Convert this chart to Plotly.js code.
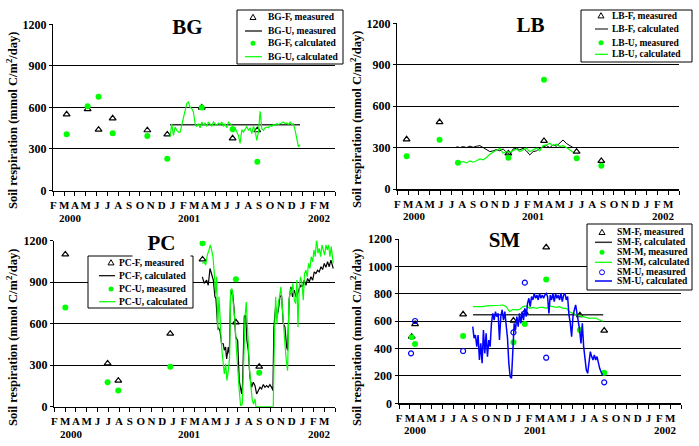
<!DOCTYPE html>
<html><head><meta charset="utf-8">
<script src="https://cdn.plot.ly/plotly-3.0.1.min.js"></script>
<style>html,body{margin:0;padding:0;background:#fff}#chart{width:699px;height:446px}</style>
</head><body><div id="chart"></div>
<script>
// ---------------- axis labels ----------------
const monthLetters = ['F','M','A','M','J','J','A','S','O','N','D','J','F','M','A','M','J','J','A','S','O','N','D','J','F','M'];
const yearLabels = ['2000','2001','2002'];
const yearMonthIdx = [0, 11, 23];           // month index where each year label starts
const yTitle = 'Soil respiration (mmol C/m<sup>2</sup>/day)';
// x values below are months elapsed since 1 Feb 2000

// ---------------- BG ----------------
const bgMeasX = [1.23, 3.17, 4.18, 5.48, 8.68, 10.52, 13.7, 16.55, 18.83];
const bgFMeasured = [550, 587, 439, 521, 435, 405, 599, 377, 435];
const bgFCalculated = [406, 608, 676, 413, 393, 229, 599, 442, 208];
const bgUMeasuredX = [10.77, 22.77];
const bgUMeasured = [475, 475];
const bgUCalcStart = 10.78, bgUCalcEnd = 22.78;
const bgUCalculated = [386,482,398,458,434,422,422,470,530,566,627,639,602,591,566,482,463,482,453,494,
  470,487,463,494,482,463,494,482,470,487,477,494,463,482,453,494,482,470,446,453,
  422,398,340,439,422,446,463,434,453,410,463,434,362,422,572,446,434,453,458,453,
  470,463,477,470,482,477,482,487,494,482,487,477,494,477,482,434,380,315,330];

// ---------------- LB ----------------
const lbFMeasX = [0.86, 3.9, 10.25, 13.54, 16.55, 18.83];
const lbFMeasured = [360, 485, 258, 348, 270, 203];
const lbUMeasX = [0.86, 3.9, 5.6, 10.25, 13.54, 16.55, 18.83];
const lbUMeasured = [237, 357, 190, 227, 792, 222, 169];
const lbCalcStart = 5.47, lbCalcEnd = 16.22;
const lbFCalculated = [307,300,307,300,310,302,310,314,300,283,271,276,286,276,290,266,250,290,
  295,283,295,276,247,271,276,295,305,314,300,319,310,331,355,330,314,300];
const lbUCalculated = [182,194,199,189,204,194,204,218,211,228,252,266,276,295,259,271,266,281,
  290,271,283,295,271,283,295,276,314,319,331,314,324,307,314,300,283,266];

// ---------------- PC ----------------
const pcMeasX = [1.02, 4.94, 5.93, 10.74, 13.73, 16.82, 18.98];
const pcFMeasured = [1101, 313, 188, 528, 1065, 610, 289];
const pcUMeasured = [718, 176, 118, 289, 1181, 921, 246];
const pcFCalcX = [13.71,13.89,14.11,14.26,14.42,14.57,14.73,14.88,14.97,15.13,15.34,15.50,15.65,15.75,15.87,15.96,16.12,16.21,16.33,16.49,
  16.64,16.80,16.98,17.13,17.35,17.44,17.60,17.72,17.84,17.97,18.12,18.28,18.43,18.59,18.74,18.89,19.05,19.20,19.36,19.51,
  19.67,19.82,19.97,20.13,20.25,20.34,20.50,20.62,20.75,20.90,21.05,21.21,21.36,21.52,21.61,21.76,21.92,22.07,22.23,22.38,
  22.54,22.69,22.84,23.00,23.15,23.31,23.46,23.62,23.77,23.93,24.08,24.23,24.39,24.54,24.70,24.85,25.01,25.16,25.31,25.47,
  25.62,25.75,25.84];
const pcFCalculated = [939,891,915,878,999,963,915,794,782,576,552,455,455,407,431,346,431,382,806,842,
  721,503,479,189,92,165,653,661,479,407,213,140,177,152,92,116,140,128,160,140,
  152,140,160,140,116,576,721,649,697,794,806,600,576,431,407,782,866,794,842,794,
  818,854,878,866,915,878,927,903,939,915,975,963,987,975,1012,992,1036,1007,1048,1012,
  1060,1024,999];
const pcUCalcX = [13.71,13.89,14.02,14.17,14.33,14.45,14.57,14.70,14.82,14.94,15.04,15.13,15.25,15.38,15.50,15.65,15.75,15.87,15.99,16.12,
  16.24,16.33,16.46,16.58,16.73,16.86,16.98,17.13,17.26,17.41,17.54,17.66,17.78,17.88,17.97,18.09,18.22,18.34,18.46,18.59,
  18.68,20.28,20.38,20.50,20.62,20.75,20.90,20.99,21.12,21.24,21.36,21.49,21.61,21.73,21.86,21.98,22.10,22.23,22.35,22.47,
  22.57,22.69,22.81,22.94,23.06,23.18,23.31,23.43,23.55,23.68,23.80,23.93,24.05,24.17,24.30,24.42,24.54,24.67,24.79,24.91,
  25.04,25.16,25.28,25.41,25.53,25.65,25.78,25.84];
const pcUCalculated = [1036,1048,1024,1096,1133,1169,1133,1084,963,818,939,552,794,576,431,310,237,310,189,261,
  358,842,854,745,624,431,261,116,7,19,310,649,757,552,455,261,140,44,19,56,
  0,0,479,794,600,745,818,866,721,552,455,334,261,745,854,818,891,770,745,915,
  576,866,939,891,770,963,987,939,1036,999,1084,1048,1133,1084,1217,1109,1145,1084,1169,1133,
  1096,1169,1133,1169,1084,1157,1072,1036];

// ---------------- SM ----------------
const smMeasX = [1.17, 1.48, 5.91, 10.55, 11.6, 13.57, 16.68, 18.92];
const smFMeasured = [487, 579, 650, 604, 664, 1139, 643, 531];
const smMMeasured = [482, 433, 492, 445, 579, 905, 535, 224];
const smUMeasX = [1.11, 1.48, 5.91, 10.55, 11.6, 13.57, 18.92];
const smUMeasured = [365, 601, 382, 518, 881, 333, 153];
const smFCalcX = [6.83, 18.83];
const smFCalculated = [647, 647];
const smMCalcStart = 6.82, smMCalcEnd = 18.8;
const smMCalculated = [706,706,701,706,711,711,716,716,716,718,706,669,686,682,686,706,711,694,701,694,
  701,701,694,711,706,701,706,694,694,669,657,645,638,633,628,621,623,621,608,599];
const smUCalcStart = 6.8, smUCalcEnd = 18.75;
const smUCalculated = [560,475,499,414,499,316,438,292,535,365,511,341,462,414,584,657,608,669,633,657,
  462,633,682,608,669,584,475,292,195,182,365,584,535,633,560,657,584,669,608,694,
  633,730,767,706,779,755,803,767,791,755,803,767,791,767,791,803,779,657,791,755,
  803,742,803,767,791,755,803,742,791,803,755,779,645,584,487,633,682,718,657,608,
  535,438,584,414,316,243,219,316,377,341,316,353,316,341,292,255,231,207];

// ================= rendering =================
const W = 699, H = 446;
const FONT = '"Liberation Serif", "Times New Roman", serif';
const GREEN = '#00ff00', BLUE = '#0000ff', BLACK = '#000000', DARK = '#333333';
const px = x => x / W, py = y => 1 - y / H;
function spanX(a, b, n) { const o = []; for (let i = 0; i < n; i++) o.push(a + (b - a) * i / (n - 1)); return o; }

const panels = [
  {title:'BG', box:[53.3,24.3,335,190.5], dtick:300, tpos:[187,27], ytpos:[12,121],
   leg:{box:[237,10,343,64], rows:[17.3,31,43.3,56.7], sym:253, line:[245,262], text:266}},
  {title:'LB', box:[397.3,23.3,679,189], dtick:300, tpos:[530,25], ytpos:[356,120],
   leg:{box:[581,10,692,62], rows:[15.7,29,42.7,54.3], sym:601, line:[595,608], text:610}},
  {title:'PC', box:[54.3,240.7,335,406.7], dtick:300, tpos:[161,243], ytpos:[12,338],
   leg:{box:[88,256,193,308], rows:[262.7,275.7,289,301.7], sym:111, line:[99,115], text:117}},
  {title:'SM', box:[399,239,681,403.3], dtick:200, tpos:[504,240], ytpos:[356,338],
   leg:{box:[587,224,692,290], rows:[232.3,242.3,252.3,262.3,272.3,281], sym:602, line:[595,612], text:615}}
];

function tri(x, y, name) { return {type:'scatter', mode:'markers', x, y, name, _k:'tri',
  marker:{symbol:'triangle-up-open', size:6, color:BLACK, line:{width:1.2, color:BLACK}}}; }
function dot(x, y, name) { return {type:'scatter', mode:'markers', x, y, name, _k:'dot',
  marker:{symbol:'circle', size:6, color:GREEN}}; }
function ring(x, y, name) { return {type:'scatter', mode:'markers', x, y, name, _k:'ring',
  marker:{symbol:'circle-open', size:5, color:BLUE, line:{width:1.2, color:BLUE}}}; }
function ln(x, y, name, color, width) { return {type:'scatter', mode:'lines', x, y, name, _k:'line',
  line:{color, width}}; }

const groups = [
  [tri(bgMeasX, bgFMeasured, 'BG-F, measured'),
   ln(bgUMeasuredX, bgUMeasured, 'BG-U, measured', DARK, 1.5),
   dot(bgMeasX, bgFCalculated, 'BG-F, calculated'),
   ln(spanX(bgUCalcStart, bgUCalcEnd, bgUCalculated.length), bgUCalculated, 'BG-U, calculated', GREEN, 1.2)],
  [tri(lbFMeasX, lbFMeasured, 'LB-F, measured'),
   ln(spanX(lbCalcStart, lbCalcEnd, lbFCalculated.length), lbFCalculated, 'LB-F, calculated', BLACK, 1),
   dot(lbUMeasX, lbUMeasured, 'LB-U, measured'),
   ln(spanX(lbCalcStart, lbCalcEnd, lbUCalculated.length), lbUCalculated, 'LB-U, calculated', GREEN, 1.2)],
  [tri(pcMeasX, pcFMeasured, 'PC-F, measured'),
   ln(pcFCalcX, pcFCalculated, 'PC-F, calculated', BLACK, 1.2),
   dot(pcMeasX, pcUMeasured, 'PC-U, measured'),
   ln(pcUCalcX, pcUCalculated, 'PC-U, calculated', GREEN, 1.2)],
  [tri(smMeasX, smFMeasured, 'SM-F, measured'),
   ln(smFCalcX, smFCalculated, 'SM-F, calculated', DARK, 1.5),
   dot(smMeasX, smMMeasured, 'SM-M, measured'),
   ln(spanX(smMCalcStart, smMCalcEnd, smMCalculated.length), smMCalculated, 'SM-M, calculated', GREEN, 1.2),
   ring(smUMeasX, smUMeasured, 'SM-U, measured'),
   ln(spanX(smUCalcStart, smUCalcEnd, smUCalculated.length), smUCalculated, 'SM-U, calculated', BLUE, 1.5)]
];

const data = [], shapes = [], annotations = [];
const layout = {width:W, height:H, margin:{l:0,r:0,t:0,b:0}, showlegend:false,
  paper_bgcolor:'#fff', plot_bgcolor:'#fff', font:{family:FONT, color:BLACK}};

panels.forEach((p, i) => {
  const n = i === 0 ? '' : String(i + 1);
  const xa = 'x' + n, ya = 'y' + n;
  const [l, t, r, b] = p.box;
  const monthPx = (r - l) / 26;
  layout['xaxis' + n] = {domain:[px(l), px(r)], anchor:ya, range:[0, 26], fixedrange:true,
    tickmode:'array', tickvals:monthLetters.map((_, k) => k).concat([26]), ticktext:monthLetters.concat(['']),
    tickangle:0, ticklabelshift:monthPx / 2, ticklabelstandoff:0,
    ticks:'outside', ticklen:4, tickwidth:1, tickcolor:BLACK,
    showline:true, linecolor:BLACK, linewidth:1.5, showgrid:false, zeroline:false,
    tickfont:{family:FONT, size:11, color:BLACK, weight:'bold'}};
  layout['yaxis' + n] = {domain:[py(b), py(t)], anchor:xa, range:[0, 1200], dtick:p.dtick, fixedrange:true,
    showline:true, linecolor:BLACK, linewidth:1.5, ticks:'outside', ticklen:3, tickcolor:BLACK,
    showgrid:true, gridcolor:BLACK, gridwidth:1, zeroline:false,
    tickfont:{family:FONT, size:12, color:BLACK, weight:'bold'}};

  groups[i].forEach(tr => { const c = Object.assign({}, tr, {xaxis:xa, yaxis:ya}); delete c._k; data.push(c); });

  // year labels
  yearLabels.forEach((yl, k) => annotations.push({xref:xa, yref:'paper', x:yearMonthIdx[k] + 0.5, xshift:-2,
    y:py(b + 27), xanchor:'left', yanchor:'middle', showarrow:false, text:yl,
    font:{family:FONT, size:11, color:BLACK, weight:'bold'}}));
  // panel title
  annotations.push({xref:'paper', yref:'paper', x:px(p.tpos[0]), y:py(p.tpos[1]), xanchor:'center', yanchor:'middle',
    showarrow:false, text:p.title, bgcolor:'#fff', width:55, height:26,
    font:{family:FONT, size:21, color:BLACK, weight:'bold'}});
  // y title
  annotations.push({xref:'paper', yref:'paper', x:px(p.ytpos[0]), y:py(p.ytpos[1]), xanchor:'center', yanchor:'middle',
    showarrow:false, textangle:-90, text:yTitle, font:{family:FONT, size:12.5, color:BLACK, weight:'bold'}});

  // legend box
  const L = p.leg;
  shapes.push({type:'rect', xref:'paper', yref:'paper', layer:'above', x0:px(L.box[0]), x1:px(L.box[2]),
    y0:py(L.box[3]), y1:py(L.box[1]), fillcolor:'#fff', line:{color:BLACK, width:1}});
  groups[i].forEach((tr, k) => {
    const cy = L.rows[k], cx = L.sym;
    if (tr._k === 'line') {
      shapes.push({type:'line', xref:'paper', yref:'paper', layer:'above', x0:px(L.line[0]), x1:px(L.line[1]),
        y0:py(cy), y1:py(cy), line:{color:tr.line.color, width:tr.line.width}});
    } else if (tr._k === 'tri') {
      shapes.push({type:'path', xref:'paper', yref:'paper', layer:'above',
        path:`M ${px(cx)},${py(cy - 3)} L ${px(cx - 3)},${py(cy + 2.2)} L ${px(cx + 3)},${py(cy + 2.2)} Z`,
        fillcolor:'rgba(0,0,0,0)', line:{color:BLACK, width:1}});
    } else {
      const filled = tr._k === 'dot';
      shapes.push({type:'circle', xref:'paper', yref:'paper', layer:'above',
        x0:px(cx - 2.5), x1:px(cx + 2.5), y0:py(cy + 2.5), y1:py(cy - 2.5),
        fillcolor: filled ? GREEN : 'rgba(0,0,0,0)', line:{color: filled ? GREEN : BLUE, width: filled ? 0 : 1}});
    }
    annotations.push({xref:'paper', yref:'paper', x:px(L.text), y:py(cy), xanchor:'left', yanchor:'middle',
      showarrow:false, text:tr.name, font:{family:FONT, size:9.5, color:BLACK, weight:'bold'}});
  });
});

layout.shapes = shapes;
layout.annotations = annotations;
Plotly.newPlot('chart', data, layout, {displayModeBar:false, staticPlot:true});
</script></body></html>
